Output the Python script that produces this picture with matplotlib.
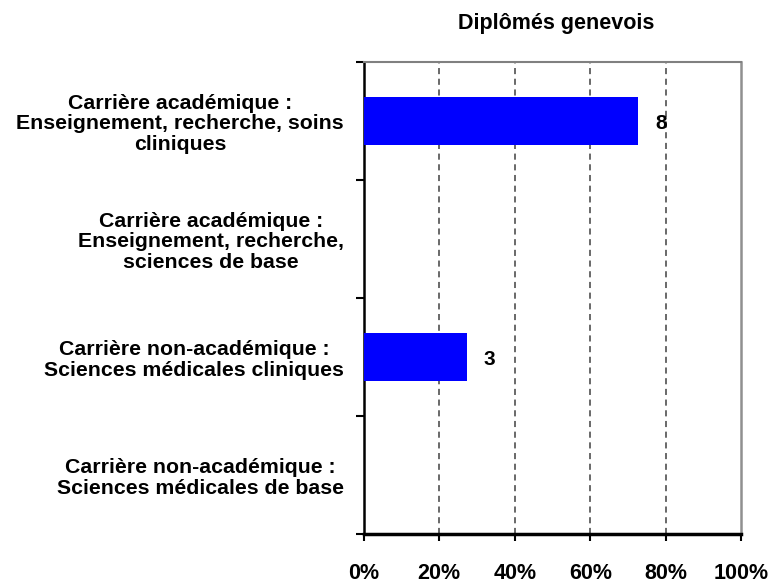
import matplotlib as mpl
mpl.use('Agg')
import matplotlib.pyplot as plt

plt.rcParams['font.family'] = ['Liberation Sans', 'DejaVu Sans']
plt.rcParams['font.weight'] = 'bold'

categories = ["Carrière académique :\nEnseignement, recherche, soins\ncliniques",
              "Carrière académique :\nEnseignement, recherche,\nsciences de base",
              "Carrière non-académique :\nSciences médicales cliniques",
              "Carrière non-académique :\nSciences médicales de base"]
counts = [8, 0, 3, 0]
total = sum(counts)
share = [c / total * 100 for c in counts]
xticks = [0, 20, 40, 60, 80, 100]
xlabels = ['0%', '20%', '40%', '60%', '80%', '100%']

fig = plt.figure(figsize=(7.71, 5.83), dpi=100)
ax = fig.add_axes([363.5 / 771, 1 - 534 / 583, 378 / 771, 472 / 583])

pos = list(range(len(categories)))[::-1]
ax.barh(pos, share, height=0.4, color='#0000ff', linewidth=0, zorder=3)
for p, s, c in zip(pos, share, counts):
    if c > 0:
        ax.text(s + 6, p - 0.02, str(c), va='center', ha='center', fontsize=15, fontweight='bold')

ax.set_xlim(0, 100)
ax.set_ylim(-0.5, 3.5)
ax.set_xticks(xticks)
ax.set_xticklabels(xlabels, fontsize=15.5, fontweight='bold')
ax.tick_params(axis='x', length=5, width=1.5, pad=16, direction='out')

ax.set_yticks([-0.5, 0.5, 1.5, 2.5, 3.5])
ax.set_yticklabels([])
ax.set_yticks(pos, minor=True)
ax.set_yticklabels(categories, minor=True, fontsize=15.3, fontweight='bold',
                   ha='right', multialignment='center', linespacing=1.1)
ax.tick_params(axis='y', which='major', length=6, width=1.5, direction='out')
ax.tick_params(axis='y', which='minor', length=0, pad=14)

for x in xticks[1:-1]:
    ax.axvline(x, color='#404040', linestyle=(0, (4, 3)), linewidth=1.1, zorder=1)

ax.spines['left'].set_linewidth(1.8)
ax.spines['bottom'].set_linewidth(2.5)
ax.spines['top'].set_color('#808080')
ax.spines['top'].set_linewidth(1.5)
ax.spines['right'].set_color('#909090')
ax.spines['right'].set_linewidth(1.8)

fig.text(556 / 771, 1 - 23 / 583, 'Diplômés genevois', ha='center', va='center',
         fontsize=15.5, fontweight='bold')

plt.savefig('out.png', dpi=100)
